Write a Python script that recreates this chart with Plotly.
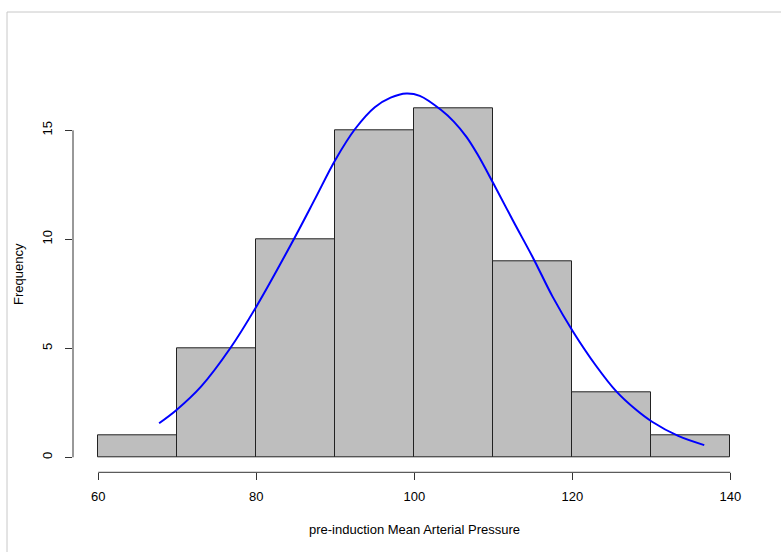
import plotly.graph_objects as go

# Histogram data (bin edges and counts)
bin_edges = [60, 70, 80, 90, 100, 110, 120, 130, 140]
counts = [1, 5, 10, 15, 16, 9, 3, 1]

# Fitted normal curve
curve_x = [67.7, 69.9, 73.0, 76.7, 80.0, 84.7, 87.5, 90.0, 92.5, 95.0, 97.0, 99.0,
           100.7, 103.4, 105.0, 106.6, 108.0, 110.0, 112.5, 115.1, 117.5, 120.1,
           123.0, 125.6, 128.0, 130.1, 133.4, 136.7]
curve_y = [1.56, 2.17, 3.24, 5.0, 6.91, 9.97, 11.9, 13.64, 15.06, 16.06, 16.5, 16.69,
           16.58, 15.93, 15.4, 14.7, 13.9, 12.57, 10.85, 9.1, 7.37, 5.76,
           4.2, 3.01, 2.2, 1.63, 0.98, 0.56]

x_ticks = [60, 80, 100, 120, 140]
y_ticks = [0, 5, 10, 15]

x_title = "pre-induction Mean Arterial Pressure"
y_title = "Frequency"

W, H = 781, 552
mids = [(a + b) / 2 for a, b in zip(bin_edges[:-1], bin_edges[1:])]
widths = [b - a for a, b in zip(bin_edges[:-1], bin_edges[1:])]

FONT = "Liberation Sans, Arial, sans-serif"
FS = 13

fig = go.Figure()
fig.add_trace(go.Bar(
    x=mids, y=counts, width=widths,
    marker=dict(color="#BEBEBE", line=dict(color="#222222", width=1)),
    hoverinfo="x+y",
))
fig.add_trace(go.Scatter(
    x=curve_x, y=curve_y, mode="lines",
    line=dict(color="#0000FF", width=2, shape="spline", smoothing=1.0),
))

x_lo, x_hi = 56.8, 143.2
y_lo, y_hi = -0.688, 17.89

fig.update_layout(
    width=W, height=H,
    margin=dict(l=0, r=0, t=0, b=0),
    paper_bgcolor="white", plot_bgcolor="white",
    showlegend=False,
    bargap=0,
    font=dict(family=FONT, size=FS, color="#000000"),
    xaxis=dict(
        domain=[73.0 / W, 755.6 / W],
        range=[x_lo, x_hi],
        tickvals=x_ticks, ticktext=[str(v) for v in x_ticks],
        ticks="outside", ticklen=7, tickwidth=1, tickcolor="#333333",
        ticklabelstandoff=5,
        showline=False, showgrid=False, zeroline=False,
        automargin=False,
        tickfont=dict(family=FONT, size=FS, color="#000000"),
    ),
    yaxis=dict(
        domain=[(H - 472.3) / H, (H - 67.3) / H],
        range=[y_lo, y_hi],
        tickvals=y_ticks, ticktext=[str(v) for v in y_ticks],
        tickangle=-90,
        ticks="outside", ticklen=7, tickwidth=1, tickcolor="#333333",
        ticklabelstandoff=8,
        showline=False, showgrid=False, zeroline=False,
        automargin=False,
        tickfont=dict(family=FONT, size=FS, color="#000000"),
    ),
    shapes=[
        dict(type="line", xref="x", yref="y domain",
             x0=x_ticks[0], x1=x_ticks[-1], y0=0, y1=0,
             line=dict(color="#333333", width=1)),
        dict(type="line", xref="x domain", yref="y",
             x0=0, x1=0, y0=y_ticks[0], y1=y_ticks[-1],
             line=dict(color="#333333", width=1)),
        dict(type="line", xref="paper", yref="paper",
             x0=7 / W, x1=1, y0=(H - 12) / H, y1=(H - 12) / H,
             line=dict(color="#C8C8C8", width=1)),
        dict(type="line", xref="paper", yref="paper",
             x0=7 / W, x1=7 / W, y0=0, y1=(H - 12) / H,
             line=dict(color="#C8C8C8", width=1)),
    ],
    annotations=[
        dict(text=x_title, xref="x", yref="paper",
             x=(x_ticks[0] + x_ticks[-1]) / 2, y=(H - 529) / H,
             showarrow=False, xanchor="center", yanchor="middle",
             font=dict(family=FONT, size=FS, color="#000000")),
        dict(text=y_title, xref="paper", yref="paper",
             x=18 / W, y=(H - 274) / H, textangle=-90,
             showarrow=False, xanchor="center", yanchor="middle",
             font=dict(family=FONT, size=FS, color="#000000")),
    ],
)

fig.write_html(
    "out.html",
    config={"displayModeBar": False},
    post_script="document.body.style.margin='0';document.body.style.overflow='hidden';",
)
